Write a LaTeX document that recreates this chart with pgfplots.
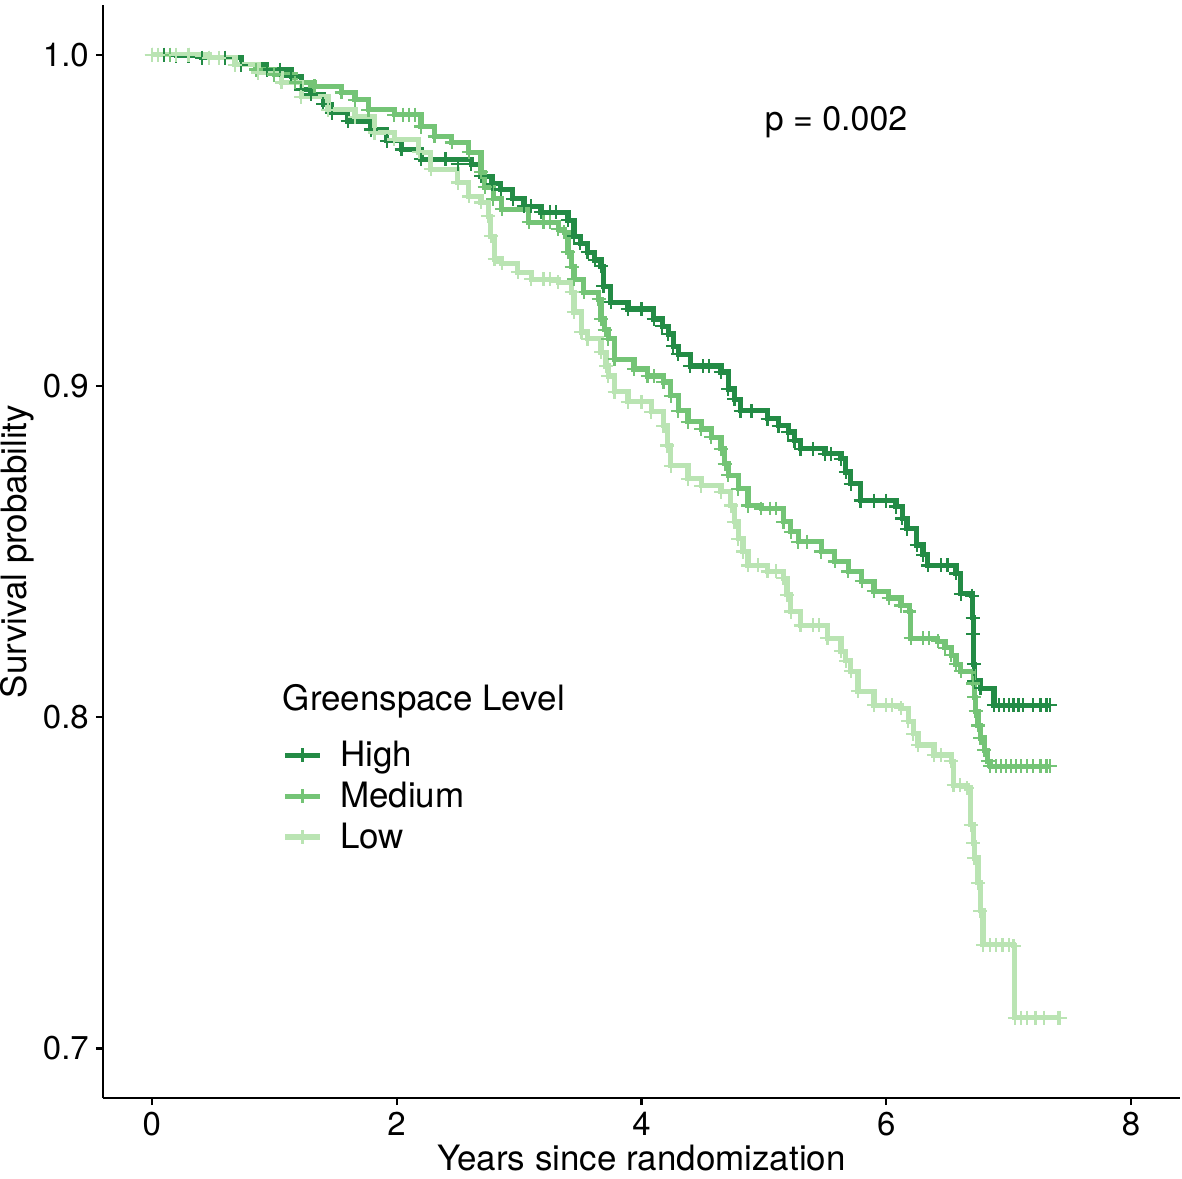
\documentclass[border=0pt]{standalone}
\usepackage{fontspec}
\setmainfont{TeX Gyre Heros}
\usepackage{pgfplots}
\usepackage{pgfplotstable}
\pgfplotsset{compat=1.18}
\definecolor{cHigh}{HTML}{238B45}
\definecolor{cMed}{HTML}{74C476}
\definecolor{cLow}{HTML}{BAE4B3}

\pgfplotstableread{
x y
0 1.0000
0.20 0.9997
0.41 0.9991
0.73 0.9970
0.94 0.9955
1.14 0.9934
1.22 0.9895
1.30 0.9880
1.40 0.9850
1.47 0.9825
1.60 0.9800
1.79 0.9774
1.92 0.9740
2.04 0.9714
2.20 0.9684
2.61 0.9669
2.69 0.9633
2.78 0.9610
2.85 0.9593
2.95 0.9565
3.04 0.9542
3.18 0.9524
3.40 0.9500
3.45 0.9452
3.50 0.9430
3.56 0.9404
3.62 0.9380
3.67 0.9361
3.69 0.9301
3.75 0.9253
3.89 0.9232
4.10 0.9202
4.17 0.9180
4.22 0.9157
4.26 0.9120
4.30 0.9096
4.40 0.9060
4.65 0.9042
4.71 0.8991
4.76 0.8960
4.81 0.8925
5.03 0.8901
5.12 0.8880
5.20 0.8861
5.25 0.8835
5.30 0.8810
5.50 0.8795
5.63 0.8780
5.67 0.8740
5.71 0.8705
5.79 0.8654
6.08 0.8636
6.13 0.8600
6.17 0.8569
6.25 0.8520
6.30 0.8490
6.34 0.8458
6.57 0.8434
6.61 0.8373
6.70 0.8367
6.705 0.8300
6.71 0.8250
6.715 0.8160
6.72 0.8110
6.77 0.8087
6.88 0.8036
7.34 0.8036
}\dHigh

\pgfplotstableread{
x y
0 1.0000
0.47 0.9991
0.68 0.9970
0.85 0.9955
1.00 0.9940
1.17 0.9916
1.33 0.9904
1.55 0.9886
1.66 0.9864
1.77 0.9834
1.98 0.9819
2.20 0.9783
2.31 0.9753
2.45 0.9735
2.59 0.9705
2.69 0.9645
2.72 0.9600
2.79 0.9565
2.86 0.9533
3.08 0.9494
3.32 0.9473
3.37 0.9464
3.40 0.9404
3.43 0.9360
3.45 0.9322
3.53 0.9283
3.65 0.9262
3.67 0.9202
3.70 0.9170
3.73 0.9142
3.78 0.9081
3.94 0.9051
4.05 0.9030
4.18 0.9012
4.24 0.8970
4.30 0.8925
4.38 0.8892
4.49 0.8870
4.57 0.8845
4.65 0.8810
4.68 0.8765
4.71 0.8730
4.79 0.8690
4.87 0.8639
4.98 0.8630
5.16 0.8590
5.22 0.8560
5.28 0.8530
5.47 0.8500
5.58 0.8470
5.69 0.8440
5.80 0.8410
5.90 0.8380
6.02 0.8360
6.12 0.8337
6.19 0.8319
6.20 0.8238
6.42 0.8229
6.48 0.8210
6.53 0.8187
6.57 0.8160
6.61 0.8139
6.71 0.8102
6.72 0.8060
6.73 0.8018
6.75 0.7975
6.77 0.7937
6.80 0.7900
6.83 0.7867
6.85 0.7852
7.34 0.7852
}\dMed

\pgfplotstableread{
x y
0 1.0000
0.47 0.9991
0.68 0.9970
0.87 0.9946
1.06 0.9916
1.22 0.9873
1.44 0.9834
1.66 0.9813
1.82 0.9765
1.98 0.9744
2.18 0.9705
2.28 0.9654
2.50 0.9614
2.59 0.9572
2.69 0.9554
2.75 0.9512
2.77 0.9452
2.80 0.9383
2.86 0.9370
2.99 0.9343
3.10 0.9322
3.32 0.9313
3.43 0.9283
3.45 0.9223
3.51 0.9163
3.56 0.9142
3.67 0.9102
3.71 0.9060
3.73 0.9030
3.78 0.8982
3.89 0.8952
4.08 0.8922
4.18 0.8880
4.21 0.8820
4.24 0.8759
4.38 0.8720
4.49 0.8699
4.65 0.8681
4.73 0.8639
4.76 0.8590
4.79 0.8539
4.83 0.8500
4.87 0.8458
5.03 0.8440
5.16 0.8419
5.19 0.8370
5.22 0.8319
5.30 0.8277
5.52 0.8238
5.63 0.8199
5.67 0.8170
5.71 0.8139
5.77 0.8078
5.90 0.8036
6.12 0.8027
6.18 0.7988
6.22 0.7950
6.26 0.7916
6.39 0.7886
6.53 0.7867
6.55 0.7795
6.66 0.7786
6.69 0.7675
6.71 0.7620
6.72 0.7575
6.75 0.7500
6.77 0.7416
6.79 0.7313
7.04 0.7310
7.05 0.7093
7.42 0.7093
}\dLow

\begin{document}
\begin{tikzpicture}
\useasboundingbox (-51.5pt,-40pt) rectangle (540.5pt,550pt);
\begin{axis}[
  scale only axis, width=539.5pt, height=547.5pt,
  xmin=-0.4, xmax=8.4, ymin=0.685, ymax=1.015,
  axis lines=left, axis line style={-, line width=1.1pt, black},
  xtick={0,2,4,6,8}, ytick={0.7,0.8,0.9,1.0},
  yticklabel style={/pgf/number format/.cd, fixed, fixed zerofill, precision=1},
  /pgf/number format/assume math mode=true,
  tick style={line width=1.1pt, black}, major tick length=3.5pt, tick align=outside,
  tick label style={font=\fontsize{16.5}{20}\selectfont, black},
  every axis x label/.style={at={(axis description cs:0.5,-0.0550)}, anchor=center, font=\fontsize{17.5}{21}\selectfont},
  every axis y label/.style={at={(axis description cs:-0.0790,0.5)}, rotate=90, anchor=center, font=\fontsize{17.5}{21}\selectfont},
  xlabel={Years since randomization}, ylabel={Survival probability},
  legend style={at={(axis description cs:0.1668,0.3306)}, anchor=north west, draw=none, fill=none,
    font=\fontsize{17.5}{21}\selectfont, row sep=2.2pt, column sep=7pt, inner sep=0pt},
  legend cell align=left,
  cmark/.style={only marks, mark=+, mark size=3.5pt, mark options={line width=1.1pt}},
]
\addplot[forget plot, const plot, cHigh, line width=2.6pt] table {\dHigh};
\addplot[forget plot, cmark, cHigh] table {\dHigh};
\addplot[forget plot, cmark, cHigh] coordinates {(0.1,1.0)(0.3,0.9997)(0.6,0.9991)(1.05,0.9955)(2.4,0.9684)(2.5,0.9669)(3.1,0.9542)(3.25,0.9524)(3.3,0.9524)(4.0,0.9232)(4.5,0.9060)(4.55,0.9060)(4.9,0.8925)(5.4,0.8810)(5.55,0.8795)(5.9,0.8654)(6.0,0.8654)(6.45,0.8458)(6.5,0.8458)(6.92,0.8036)(6.96,0.8036)(7.0,0.8036)(7.04,0.8036)(7.08,0.8036)(7.12,0.8036)(7.2,0.8036)(7.26,0.8036)(7.31,0.8036)};
\addplot[forget plot, const plot, cMed, line width=2.6pt] table {\dMed};
\addplot[forget plot, cmark, cMed] table {\dMed};
\addplot[forget plot, cmark, cMed] coordinates {(0.15,1.0)(0.3,1.0)(2.05,0.9819)(2.1,0.9819)(2.15,0.9819)(3.2,0.9494)(3.25,0.9494)(4.1,0.9030)(5.05,0.8630)(5.1,0.8630)(5.35,0.8530)(6.3,0.8238)(6.35,0.8238)(6.9,0.7852)(6.94,0.7852)(6.98,0.7852)(7.02,0.7852)(7.06,0.7852)(7.1,0.7852)(7.15,0.7852)(7.2,0.7852)(7.26,0.7852)(7.31,0.7852)};
\addplot[forget plot, const plot, cLow, line width=2.6pt] table {\dLow};
\addplot[forget plot, cmark, cLow] table {\dLow};
\addplot[forget plot, cmark, cLow] coordinates {(0.05,1.0)(0.2,1.0)(0.3,1.0)(0.55,0.9991)(3.2,0.9322)(3.25,0.9322)(4.0,0.8952)(4.95,0.8458)(5.1,0.8440)(5.4,0.8277)(5.45,0.8277)(6.0,0.8036)(6.05,0.8036)(6.45,0.7886)(6.6,0.7795)(6.85,0.7313)(6.9,0.7313)(6.95,0.7313)(7.0,0.7313)(7.1,0.7093)(7.15,0.7093)(7.22,0.7093)(7.29,0.7093)(7.40,0.7093)};
\addlegendimage{cHigh, line width=2.6pt, mark=+, mark size=3.5pt, mark options={line width=1.1pt}}
\addlegendentry{High}
\addlegendimage{cMed, line width=2.6pt, mark=+, mark size=3.5pt, mark options={line width=1.1pt}}
\addlegendentry{Medium}
\addlegendimage{cLow, line width=2.6pt, mark=+, mark size=3.5pt, mark options={line width=1.1pt}}
\addlegendentry{Low}
\node[anchor=west, font=\fontsize{17.5}{21}\selectfont, inner sep=0pt] at (axis description cs:0.1668,0.3635) {Greenspace Level};
\node[font=\fontsize{17}{20}\selectfont] at (axis cs:5.59,0.9795) {p = 0.002};
\end{axis}
\end{tikzpicture}
\end{document}
